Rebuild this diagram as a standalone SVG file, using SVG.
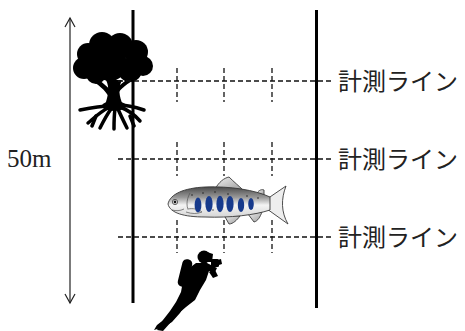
<svg xmlns="http://www.w3.org/2000/svg" width="465" height="331" viewBox="0 0 465 331">
  <style>
    .post { stroke: #000; stroke-width: 3; fill: none; }
    .dash { stroke: #111; stroke-width: 1.3; stroke-dasharray: 5 3; fill: none; }
    .label { font-family: "Noto Sans CJK JP", "Noto Sans", sans-serif; font-size: 24px; fill: #222; }
    .dim { font-family: "Liberation Serif", serif; font-size: 25px; fill: #222; }
    .root { stroke: #000; stroke-width: 3.5; stroke-linecap: round; fill: none; }
    .spot { fill: #173a8c; }
  </style>
  <defs>
    <linearGradient id="fishBody" x1="0" y1="0" x2="0" y2="1">
      <stop offset="0" stop-color="#4a4a4a"/>
      <stop offset="0.35" stop-color="#9a9a9a"/>
      <stop offset="0.6" stop-color="#f4f4f4"/>
      <stop offset="1" stop-color="#d6d6d6"/>
    </linearGradient>
    <linearGradient id="finFill" x1="0" y1="0" x2="1" y2="1">
      <stop offset="0" stop-color="#f2f2f2"/>
      <stop offset="1" stop-color="#9c9c9c"/>
    </linearGradient>
  </defs>

  <!-- tree -->
  <g id="tree">
    <g fill="#000">
      <circle cx="84" cy="68" r="11"/>
      <circle cx="88" cy="54" r="11"/>
      <circle cx="102" cy="45" r="13"/>
      <circle cx="120" cy="46" r="13"/>
      <circle cx="136" cy="52" r="12"/>
      <circle cx="143" cy="66" r="10"/>
      <circle cx="110" cy="64" r="17"/>
      <circle cx="130" cy="70" r="12"/>
      <circle cx="96" cy="74" r="10"/>
      <path d="M106,80 C110,88 108,96 105,105 L123,105 C119,96 118,88 122,80 Z"/>
      <path d="M90,80 C98,84 105,90 109,97 L112,92 C107,86 100,80 94,77 Z"/>
      <path d="M136,79 C128,83 121,88 117,95 L116,90 C120,84 127,79 133,76 Z"/>
      <ellipse cx="114" cy="106" rx="12" ry="5"/>
    </g>
    <path class="root" d="M110,106 C100,106 90,108 80,110"/>
    <path class="root" d="M108,108 C100,112 94,118 88,123"/>
    <path class="root" d="M111,109 C106,116 103,122 100,128"/>
    <path class="root" d="M115,109 C114,116 114,122 114,129"/>
    <path class="root" d="M118,109 C121,116 124,122 127,128"/>
    <path class="root" d="M120,107 C128,110 134,114 140,121"/>
    <path class="root" d="M118,105 C127,105 135,107 144,110"/>
    <path class="root" d="M96,116 L92,126"/>
    <path class="root" d="M130,116 L134,126"/>
  </g>

  <!-- survey posts -->
  <g id="posts">
    <line class="post" x1="133" y1="10" x2="133" y2="303"/>
    <line class="post" x1="316.5" y1="10" x2="316.5" y2="308"/>
  </g>

  <!-- measurement lines and distance arrow -->
  <g id="connectors">
    <line class="dash" x1="118" y1="81" x2="331" y2="81"/>
    <line class="dash" x1="118" y1="159" x2="331" y2="159"/>
    <line class="dash" x1="118" y1="237" x2="331" y2="237"/>
    <line class="dash" x1="177" y1="68" x2="177" y2="102"/>
    <line class="dash" x1="224" y1="68" x2="224" y2="102"/>
    <line class="dash" x1="272" y1="68" x2="272" y2="102"/>
    <line class="dash" x1="177" y1="142" x2="177" y2="176"/>
    <line class="dash" x1="224" y1="142" x2="224" y2="176"/>
    <line class="dash" x1="272" y1="142" x2="272" y2="176"/>
    <line class="dash" x1="177" y1="220" x2="177" y2="253"/>
    <line class="dash" x1="224" y1="220" x2="224" y2="253"/>
    <line class="dash" x1="272" y1="220" x2="272" y2="253"/>
    <g stroke="#222" stroke-width="1.2" fill="none">
      <line x1="70" y1="18" x2="70" y2="303"/>
      <polyline points="65,27 70,18 75,27"/>
      <polyline points="65,294 70,303 75,294"/>
    </g>
  </g>

  <!-- fish -->
  <g id="fish" stroke="#3a3a3a" stroke-width="0.9">
    <path d="M215,189 C219,182 224,178 229,177 C234,182 239,186 243,190 Z" fill="url(#finFill)"/>
    <path d="M257,193 C259,190 262,189 264,190 L264,195 Z" fill="url(#finFill)"/>
    <path d="M224,215 L229,224 C233,224 237,220 240,216 Z" fill="url(#finFill)"/>
    <path d="M248,214 L254,222 C258,221 260,217 262,212 Z" fill="url(#finFill)"/>
    <path d="M267,199 L286,186 C281,199 281,212 288,224 L267,209 Z" fill="#eeeeee"/>
    <path d="M168,204 C170,194 184,188 205,187 C230,186 255,190 270,197 L270,210 C255,215 230,218 205,217 C184,217 170,213 168,204 Z" fill="url(#fishBody)"/>
    <path d="M190,193 C186,200 186,208 190,213" fill="none" stroke="#555" stroke-width="0.7"/>
    <path d="M172,210 C176,211 180,211 184,209" fill="none" stroke="#555" stroke-width="0.7"/>
    <path d="M186,212 C192,214 197,214 202,212 C198,209 193,208 188,209" fill="#e8e8e8" stroke="#555" stroke-width="0.7"/>
    <circle cx="175" cy="202" r="2.6" fill="#fff" stroke="#333" stroke-width="0.8"/>
    <circle cx="175" cy="202" r="1.4" fill="#111" stroke="none"/>
    <g stroke="none">
      <ellipse class="spot" cx="198" cy="205" rx="3.4" ry="7.5"/>
      <ellipse class="spot" cx="209" cy="204" rx="3.6" ry="8"/>
      <ellipse class="spot" cx="220" cy="204" rx="3.6" ry="8.2"/>
      <ellipse class="spot" cx="230" cy="204" rx="3.6" ry="8"/>
      <ellipse class="spot" cx="241" cy="205" rx="3.2" ry="7"/>
      <ellipse class="spot" cx="251" cy="204" rx="2.8" ry="6"/>
      <g fill="#222">
        <circle cx="192" cy="195" r="0.8"/>
        <circle cx="203" cy="193" r="0.8"/>
        <circle cx="215" cy="192" r="0.8"/>
        <circle cx="228" cy="194" r="0.8"/>
        <circle cx="247" cy="196" r="0.8"/>
        <circle cx="258" cy="198" r="0.8"/>
        <circle cx="213" cy="210" r="0.7"/>
      </g>
    </g>
  </g>

  <!-- diver -->
  <g id="diver" fill="#000">
    <circle cx="204" cy="257" r="6.5"/>
    <rect x="180" y="259" width="10" height="28" rx="4.5" transform="rotate(14 185 273)"/>
    <path d="M207,252 L213,254 L212,262 L207,262 Z"/>
    <rect x="211" y="259" width="8" height="8" rx="1.5"/>
    <path d="M214,261 L221,259 L222,264 L216,266 Z"/>
    <path d="M196,263 L207,263 L213,266 L217,268 L215,272 L209,271 L206,280 L200,290 L195,300 L186,307 L178,314 L171,322 L163,331 L157,330 L163,320 L170,311 L176,302 L181,292 L183,281 L188,269 Z"/>
    <path d="M214,268 L218,276 L213,278 L209,272 Z"/>
    <path d="M186,303 L180,313 L172,322 L164,327 L154,330 L157,325 L166,318 L174,309 L180,300 Z"/>
  </g>

  <!-- labels -->
  <g id="labels">
    <text class="label" x="338" y="90">計測ライン</text>
    <text class="label" x="338" y="168">計測ライン</text>
    <text class="label" x="338" y="246">計測ライン</text>
    <text class="dim" x="7" y="167">50m</text>
  </g>
</svg>
